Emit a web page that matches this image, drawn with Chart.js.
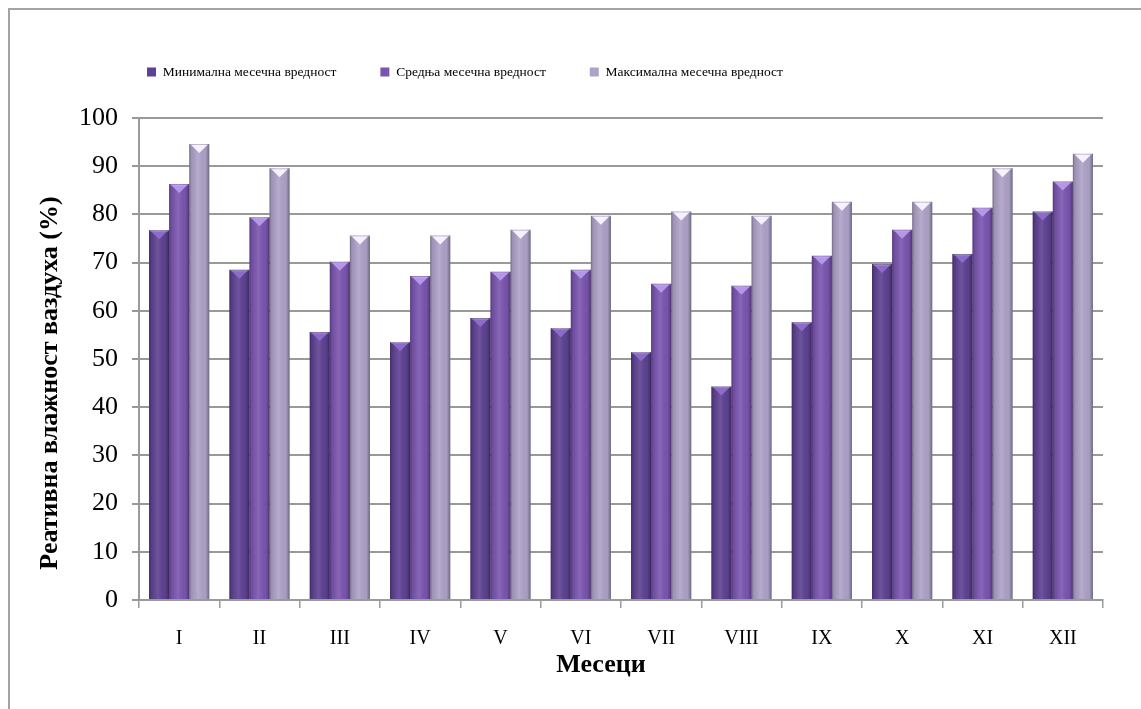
<!DOCTYPE html>
<html>
<head>
<meta charset="utf-8">
<script src="https://cdn.jsdelivr.net/npm/chart.js@4.4.1/dist/chart.umd.min.js"></script>
<style>
  html, body { margin: 0; padding: 0; background: #fff; overflow: hidden; }
  #wrap { position: relative; width: 1141px; height: 709px; }
  #frame { position: absolute; left: 8px; top: 8px; width: 2000px; height: 2000px;
           border-top: 2px solid #a3a3a3; border-left: 2px solid #a3a3a3; pointer-events: none; }
  canvas { position: absolute; left: 0; top: 0; }
</style>
</head>
<body>
<div id="wrap">
  <canvas id="c" width="1141" height="709"></canvas>
  <div id="frame"></div>
</div>
<script>
// Months (Roman numerals)
const months = ['I', 'II', 'III', 'IV', 'V', 'VI', 'VII', 'VIII', 'IX', 'X', 'XI', 'XII'];

// Relative air humidity (%) per month
const minMonthly  = [76.7, 68.5, 55.6, 53.5, 58.5, 56.4, 51.4, 44.3, 57.6, 69.7, 71.8, 80.6];
const meanMonthly = [86.3, 79.4, 70.2, 67.2, 68.1, 68.5, 65.6, 65.2, 71.4, 76.8, 81.4, 86.8];
const maxMonthly  = [94.6, 89.6, 75.6, 75.6, 76.8, 79.7, 80.6, 79.7, 82.6, 82.6, 89.6, 92.6];

const seriesNames = ['Минимална месечна вредност', 'Средња месечна вредност', 'Максимална месечна вредност'];
const yTitle = 'Реативна влажност ваздуха (%)';
const xTitle = 'Месеци';

const fillColors = ['#5d4192', '#7a55b0', '#aea2c8'];
const capColors  = ['#8c6cc8', '#b597ea', '#f6f2fd'];

const SERIF = "'Liberation Serif', 'Times New Roman', serif";

// Shades each bar (rounded look) and adds the bevelled cap on its top
const barShading = {
  id: 'barShading',
  afterDatasetsDraw(chart) {
    const ctx = chart.ctx;
    chart.data.datasets.forEach((ds, di) => {
      const meta = chart.getDatasetMeta(di);
      meta.data.forEach(el => {
        const {x, y, base, width} = el.getProps(['x', 'y', 'base', 'width'], true);
        const l = x - width / 2, r = x + width / 2;
        ctx.save();
        const g = ctx.createLinearGradient(l, 0, r, 0);
        g.addColorStop(0, 'rgba(0,0,0,0.34)');
        g.addColorStop(0.10, 'rgba(0,0,0,0.10)');
        g.addColorStop(0.45, 'rgba(255,255,255,0.10)');
        g.addColorStop(0.82, 'rgba(0,0,0,0.03)');
        g.addColorStop(1, 'rgba(0,0,0,0.36)');
        ctx.fillStyle = g;
        ctx.fillRect(l, y, width, base - y);
        // cap
        ctx.beginPath();
        ctx.moveTo(l + 2, y + 1);
        ctx.lineTo(r - 2, y + 1);
        ctx.lineTo(x, y + 9);
        ctx.closePath();
        ctx.fillStyle = capColors[di];
        ctx.fill();
        ctx.fillStyle = 'rgba(255,255,255,0.25)';
        ctx.fillRect(l + 1, y, width - 2, 1.5);
        ctx.restore();
      });
    });
  }
};

// Puts the legend row above the plot and nudges the axis titles
const placement = {
  id: 'placement',
  afterLayout(chart) {
    const lg = chart.legend;
    if (lg && lg.lineWidths) {
      const pad = lg.options.labels.padding;
      const startX = (lg.left + pad + lg.right - lg.lineWidths[0]) / 2;
      const dx = 147 - startX;
      lg.left += dx; lg.right += dx;
      const itemH = lg.legendHitBoxes.length ? lg.legendHitBoxes[0].height : 14;
      const dy = (72 - pad - itemH / 2) - lg.top;
      lg.top += dy; lg.bottom += dy;
    }
    const shiftTitle = (scale, prop1, prop2, d) => {
      if (!scale || scale._titleShifted) return;
      const orig = scale.drawTitle;
      scale.drawTitle = function () {
        this[prop1] += d; this[prop2] += d;
        orig.apply(this, arguments);
        this[prop1] -= d; this[prop2] -= d;
      };
      scale._titleShifted = true;
    };
    shiftTitle(chart.scales.y, 'top', 'bottom', 24);
    shiftTitle(chart.scales.x, 'left', 'right', -20);
  }
};

new Chart(document.getElementById('c'), {
  type: 'bar',
  data: {
    labels: months,
    datasets: [
      { label: seriesNames[0], data: minMonthly,  backgroundColor: fillColors[0] },
      { label: seriesNames[1], data: meanMonthly, backgroundColor: fillColors[1] },
      { label: seriesNames[2], data: maxMonthly,  backgroundColor: fillColors[2] }
    ]
  },
  options: {
    responsive: false,
    animation: false,
    devicePixelRatio: 1,
    layout: { padding: { top: 50.5, left: 0, right: 38, bottom: 0 } },
    datasets: { bar: { barPercentage: 1.0, categoryPercentage: 0.75 } },
    plugins: {
      tooltip: { enabled: false },
      legend: {
        position: 'top',
        labels: {
          font: { family: SERIF, size: 13.5 },
          color: '#000',
          boxWidth: 9,
          boxHeight: 9,
          padding: 44
        }
      }
    },
    scales: {
      x: {
        grid: { display: true, drawOnChartArea: false, offset: true, color: '#9a9a9a', lineWidth: 1.5, tickLength: 8 },
        border: { color: '#9a9a9a', width: 2 },
        ticks: { font: { family: SERIF, size: 20 }, color: '#000', padding: 19, maxRotation: 0 },
        title: { display: true, text: xTitle, font: { family: SERIF, size: 26, weight: 'bold' }, color: '#000',
                 padding: { top: 0, bottom: 28 } },
        afterFit(scale) { scale.height = 109; }
      },
      y: {
        min: 0, max: 100,
        ticks: { stepSize: 10, font: { family: SERIF, size: 26 }, color: '#000', padding: 14 },
        grid: { color: '#999999', lineWidth: 2, tickLength: 7 },
        border: { color: '#9a9a9a', width: 2 },
        title: { display: true, text: yTitle, font: { family: SERIF, size: 26, weight: 'bold' }, color: '#000',
                 padding: { top: 35, bottom: 0 } },
        afterFit(scale) { scale.width = 139; }
      }
    }
  },
  plugins: [barShading, placement]
});
</script>
</body>
</html>
